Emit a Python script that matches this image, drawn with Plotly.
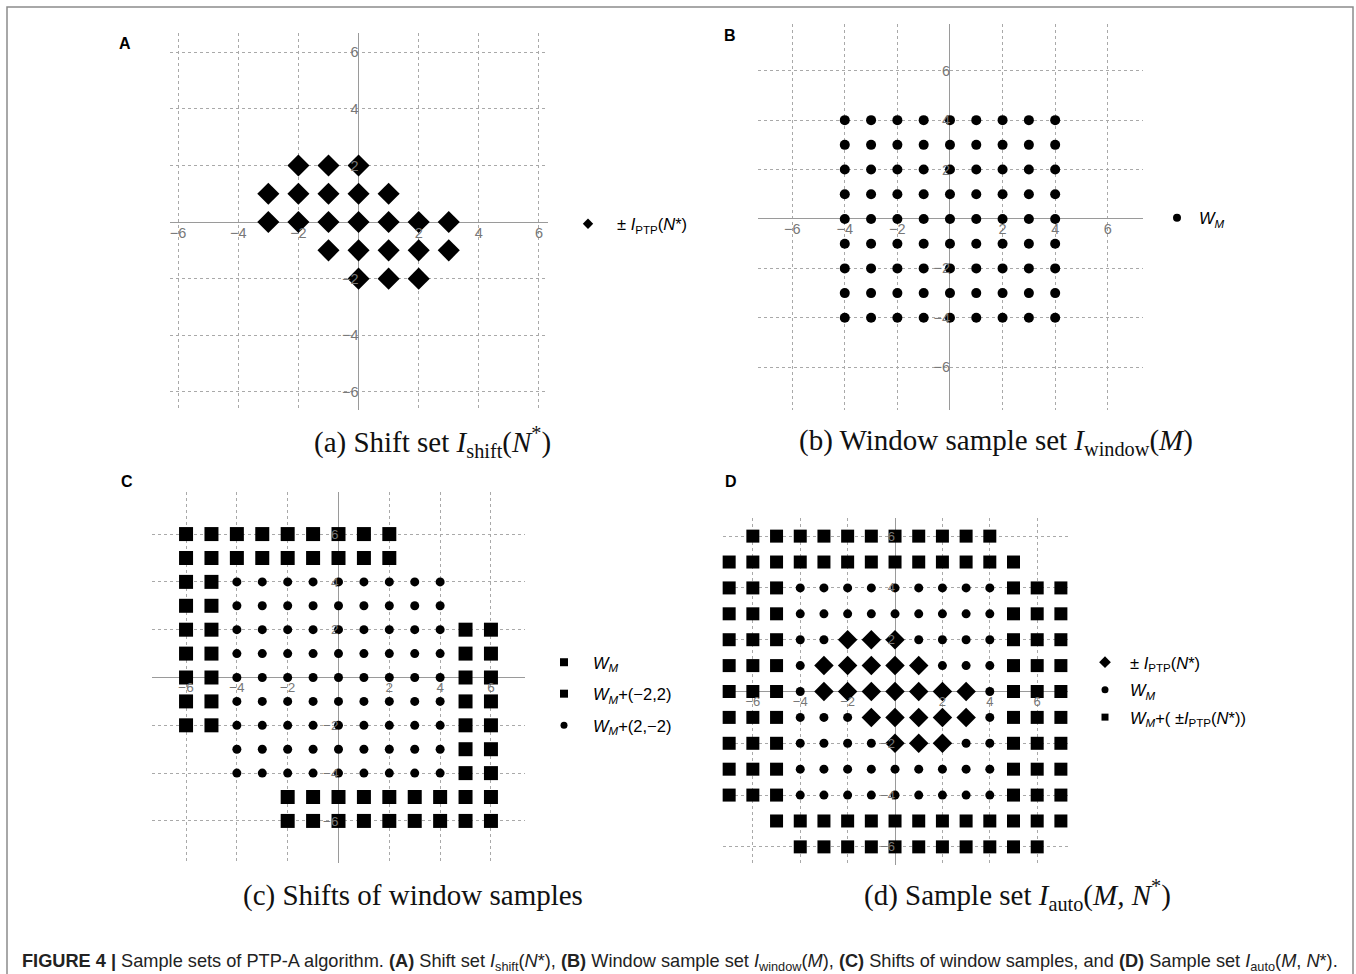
import plotly.graph_objects as go

W, H = 1356, 974

# ---------------- data ----------------
tick_vals = [-6, -4, -2, 2, 4, 6]

# +/- I_PTP(N*) shift set (panel A, diamonds in D)
ptp_x = [-2, -1, 0, -3, -2, -1, 0, 1, -3, -2, -1, 0, 1, 2, 3, -1, 0, 1, 2, 3, 0, 1, 2]
ptp_y = [2, 2, 2, 1, 1, 1, 1, 1, 0, 0, 0, 0, 0, 0, 0, -1, -1, -1, -1, -1, -2, -2, -2]

# window sample set W_M (panel B)
window_cols = [-4, -3, -2, -1, 0, 1, 2, 3, 4]
window_rows = [4, 3, 2, 1, 0, -1, -2, -3, -4]

# panel C: visible squares of W_M+(-2,2)
c_up_rows = [6, 5, 4, 3, 2, 1, 0, -1, -2]
c_up_cols = [[-6, -5, -4, -3, -2, -1, 0, 1, 2], [-6, -5, -4, -3, -2, -1, 0, 1, 2],
             [-6, -5], [-6, -5], [-6, -5], [-6, -5], [-6, -5], [-6, -5], [-6, -5]]
# panel C: visible squares of W_M+(2,-2)
c_dn_rows = [2, 1, 0, -1, -2, -3, -4, -5, -6]
c_dn_cols = [[5, 6], [5, 6], [5, 6], [5, 6], [5, 6], [5, 6], [5, 6],
             [-2, -1, 0, 1, 2, 3, 4, 5, 6], [-2, -1, 0, 1, 2, 3, 4, 5, 6]]

# panel D: visible squares of W_M+(+/-I_PTP(N*))
d_sq_rows = [6, 5, 4, 3, 2, 1, 0, -1, -2, -3, -4, -5, -6]
d_sq_cols = [[-6, -5, -4, -3, -2, -1, 0, 1, 2, 3, 4],
             [-7, -6, -5, -4, -3, -2, -1, 0, 1, 2, 3, 4, 5],
             [-7, -6, -5, 5, 6, 7], [-7, -6, -5, 5, 6, 7], [-7, -6, -5, 5, 6, 7],
             [-7, -6, -5, 5, 6, 7], [-7, -6, -5, 5, 6, 7], [-7, -6, -5, 5, 6, 7],
             [-7, -6, -5, 5, 6, 7], [-7, -6, -5, 5, 6, 7], [-7, -6, -5, 5, 6, 7],
             [-5, -4, -3, -2, -1, 0, 1, 2, 3, 4, 5, 6, 7],
             [-4, -3, -2, -1, 0, 1, 2, 3, 4, 5, 6]]


def rows_to_xy(rows, cols):
    xs, ys = [], []
    for r, cs in zip(rows, cols):
        for c in cs:
            xs.append(c)
            ys.append(r)
    return xs, ys


win_x, win_y = rows_to_xy(window_rows, [window_cols] * len(window_rows))
c_up_x, c_up_y = rows_to_xy(c_up_rows, c_up_cols)
c_dn_x, c_dn_y = rows_to_xy(c_dn_rows, c_dn_cols)
d_sq_x, d_sq_y = rows_to_xy(d_sq_rows, d_sq_cols)
ptp_set = set(zip(ptp_x, ptp_y))
d_ci = [(x, y) for x, y in zip(win_x, win_y) if (x, y) not in ptp_set]
d_ci_x = [p[0] for p in d_ci]
d_ci_y = [p[1] for p in d_ci]

# ---------------- layout helpers ----------------
panels = [
    dict(xd=(170, 548), xr=(-6.27, 6.30), yd=(33, 410), yr=(-6.64, 6.68), fs=14.5),
    dict(xd=(758, 1143), xr=(-7.30, 7.34), yd=(24, 410), yr=(-7.73, 7.89), fs=14.5),
    dict(xd=(152, 525), xr=(-7.34, 7.34), yd=(492, 863), yr=(-7.76, 7.76), fs=13.5),
    dict(xd=(723, 1068), xr=(-7.26, 7.30), yd=(518, 865), yr=(-6.70, 6.70), fs=13),
]

FONT = "Liberation Sans, Arial, sans-serif"
SERIF = "Liberation Serif, Times New Roman, serif"

layout = dict(
    width=W, height=H, margin=dict(l=0, r=0, t=0, b=0),
    paper_bgcolor="white", plot_bgcolor="white",
    font=dict(family=FONT, color="black"),
    showlegend=True,
)

for i, p in enumerate(panels):
    sfx = "" if i == 0 else str(i + 1)
    x0f, x1f = p["xd"][0] / W, p["xd"][1] / W
    y0f, y1f = 1 - p["yd"][1] / H, 1 - p["yd"][0] / H
    xzero = x0f + (0 - p["xr"][0]) / (p["xr"][1] - p["xr"][0]) * (x1f - x0f)
    yzero = y0f + (0 - p["yr"][0]) / (p["yr"][1] - p["yr"][0]) * (y1f - y0f)
    common = dict(
        showgrid=True, gridcolor="#a9a9a9", griddash="dot", gridwidth=1,
        zeroline=True, zerolinecolor="#9a9a9a", zerolinewidth=1,
        showline=False, ticks="", tickvals=tick_vals,
        tickfont=dict(size=p["fs"], color="#777777", family=FONT),
        fixedrange=True, anchor="free", automargin=False,
    )
    layout["xaxis" + sfx] = dict(common, domain=[x0f, x1f], range=list(p["xr"]),
                                 position=yzero)
    layout["yaxis" + sfx] = dict(common, domain=[y0f, y1f], range=list(p["yr"]),
                                 position=xzero)

fig = go.Figure()


def add_pts(xs, ys, ax, symbol, size):
    fig.add_trace(go.Scatter(
        x=xs, y=ys, mode="markers", xaxis="x" + ax, yaxis="y" + ax,
        marker=dict(symbol=symbol, size=size, color="black", line=dict(width=0)),
        showlegend=False, hoverinfo="skip", cliponaxis=False))


def add_leg(name, symbol, size, ax, leg, grp):
    fig.add_trace(go.Scatter(
        x=[None], y=[None], mode="markers", xaxis="x" + ax, yaxis="y" + ax,
        marker=dict(symbol=symbol, size=size, color="black", line=dict(width=0)),
        name=name, legend=leg, legendgroup=grp, showlegend=True))


ptp_name = "± <i>I</i><sub>PTP</sub>(<i>N</i>*)"
wm_name = "<i>W<sub>M</sub></i>"

# Panel A
add_pts(ptp_x, ptp_y, "", "diamond", 17)
add_leg(ptp_name, "diamond", 8, "", "legend", "a1")
# Panel B
add_pts(win_x, win_y, "2", "circle", 10)
add_leg(wm_name, "circle", 8, "2", "legend2", "b1")
# Panel C
add_pts(c_up_x, c_up_y, "3", "square", 14)
add_pts(c_dn_x, c_dn_y, "3", "square", 14)
add_pts(win_x, win_y, "3", "circle", 9)
add_leg(wm_name, "square", 8, "3", "legend3", "c1")
add_leg(wm_name + "+(−2,2)", "square", 8, "3", "legend3", "c2")
add_leg(wm_name + "+(2,−2)", "circle", 7, "3", "legend3", "c3")
# Panel D
add_pts(d_sq_x, d_sq_y, "4", "square", 13)
add_pts(d_ci_x, d_ci_y, "4", "circle", 9)
add_pts(ptp_x, ptp_y, "4", "diamond", 15)
add_leg(ptp_name, "diamond", 9, "4", "legend4", "d1")
add_leg(wm_name, "circle", 7, "4", "legend4", "d2")
add_leg(wm_name + "+( ±<i>I</i><sub>PTP</sub>(<i>N</i>*))", "square", 7, "4", "legend4", "d3")

legcommon = dict(xanchor="left", yanchor="middle", bgcolor="rgba(0,0,0,0)",
                 font=dict(size=16.5, family=FONT, color="black"),
                 itemclick=False, itemdoubleclick=False)
layout["legend"] = dict(legcommon, x=559 / W, y=1 - 224 / H, itemwidth=48)
layout["legend2"] = dict(legcommon, x=1155 / W, y=1 - 218 / H, itemwidth=34)
layout["legend3"] = dict(legcommon, x=535 / W, y=1 - 694 / H, tracegroupgap=7, itemwidth=48)
layout["legend4"] = dict(legcommon, x=1080 / W, y=1 - 690 / H, tracegroupgap=3, itemwidth=40)

fig.update_layout(**layout)

# panel letters
for txt, px, py in [("A", 125, 43), ("B", 730, 36), ("C", 127, 482), ("D", 731, 482)]:
    fig.add_annotation(text="<b>%s</b>" % txt, x=px / W, y=1 - py / H, xref="paper", yref="paper",
                       showarrow=False, xanchor="center", yanchor="middle",
                       font=dict(size=16, family=FONT, color="black"))

# sub-captions
subcaps = [
    ("(a) Shift set <i>I</i><sub>shift</sub>(<i>N</i><sup>*</sup>)", 432, 442),
    ("(b) Window sample set <i>I</i><sub>window</sub>(<i>M</i>)", 996, 442),
    ("(c) Shifts of window samples", 413, 895),
    ("(d) Sample set <i>I</i><sub>auto</sub>(<i>M, N</i><sup>*</sup>)", 1017, 895),
]
for txt, px, py in subcaps:
    fig.add_annotation(text=txt, x=px / W, y=1 - py / H, xref="paper", yref="paper",
                       showarrow=False, xanchor="center", yanchor="middle",
                       font=dict(size=29, family=SERIF, color="#111"))

caption = ("<b>FIGURE 4 |</b> Sample sets of PTP-A algorithm. <b>(A)</b> Shift set "
           "<i>I</i><sub>shift</sub>(<i>N</i>*), <b>(B)</b> Window sample set "
           "<i>I</i><sub>window</sub>(<i>M</i>), <b>(C)</b> Shifts of window samples, and "
           "<b>(D)</b> Sample set <i>I</i><sub>auto</sub>(<i>M</i>, <i>N</i>*).")
fig.add_annotation(text=caption, x=20 / W, y=1 - 962 / H, xref="paper", yref="paper",
                   showarrow=False, xanchor="left", yanchor="middle",
                   font=dict(size=18.2, family=FONT, color="#222"))

# frame around the figure
fig.add_shape(type="rect", xref="paper", yref="paper", x0=7 / W, x1=1353 / W,
              y0=-0.1, y1=1 - 7 / H, line=dict(color="#8c8c8c", width=1.5),
              fillcolor="rgba(0,0,0,0)", layer="below")

fig.write_html(
    "out.html",
    config={"displayModeBar": False},
    post_script="document.body.style.margin='0';document.body.style.overflow='hidden';",
)
